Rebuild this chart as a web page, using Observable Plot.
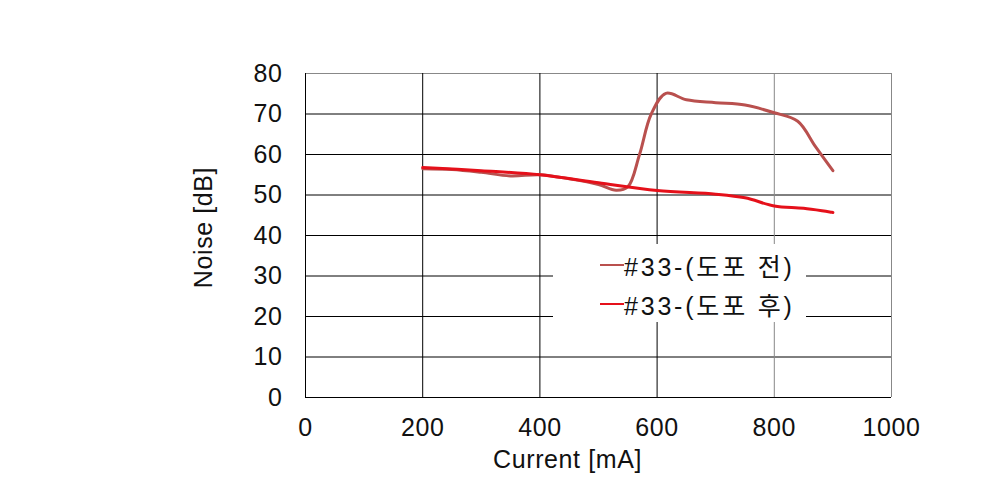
<!DOCTYPE html>
<html><head><meta charset="utf-8">
<script src="https://cdn.jsdelivr.net/npm/d3@7"></script>
<script src="https://cdn.jsdelivr.net/npm/@observablehq/plot@0.6"></script>
<style>
html,body{margin:0;padding:0;background:#fff;}
#wrap{position:relative;width:1004px;height:490px;}
#legend{position:absolute;left:553px;top:244px;width:253px;height:78px;background:#fff;font-family:"Liberation Sans",Arial,"Noto Sans CJK KR",sans-serif;font-size:25px;letter-spacing:2.8px;color:#111;}
.item{position:absolute;left:47px;display:flex;align-items:center;white-space:nowrap;}
.sw{display:inline-block;width:24px;height:0;margin-right:0px;}
</style></head>
<body><div id="wrap"><div id="legend"></div></div>
<script>
const seriesNames = ["#33-(도포 전)", "#33-(도포 후)"];
const seriesColors = ["#b9504e", "#e5101a"];
const beforeX = [200, 250, 300, 350, 400, 450, 500, 530, 550, 570, 590, 615, 650, 700, 750, 800, 840, 870, 900];
const beforeY = [56.5, 56.3, 55.6, 54.7, 55.0, 54.0, 52.6, 51.2, 52.0, 60.0, 70.0, 75.1, 73.5, 72.8, 72.2, 70.3, 68.2, 62.0, 56.0];
const afterX = [200, 300, 400, 500, 600, 700, 750, 800, 850, 900];
const afterY = [56.8, 56.0, 55.0, 53.0, 51.1, 50.2, 49.3, 47.3, 46.7, 45.7];
const xTicks = [0, 200, 400, 600, 800, 1000];
const yTicks = [0, 10, 20, 30, 40, 50, 60, 70, 80];
const xLabel = "Current [mA]";
const yLabel = "Noise [dB]";

const data = [
  ...beforeX.map((x, i) => ({x, y: beforeY[i], s: seriesNames[0]})),
  ...afterX.map((x, i) => ({x, y: afterY[i], s: seriesNames[1]}))
];

const chart = Plot.plot({
  width: 1004, height: 490,
  marginLeft: 305, marginRight: 113, marginTop: 73, marginBottom: 93,
  style: {fontFamily: "'Liberation Sans', Arial, sans-serif", fontSize: "25px", color: "#111", background: "#fff", letterSpacing: "0.6px"},
  x: {domain: [0, 1000]},
  y: {domain: [0, 80]},
  color: {domain: seriesNames, range: seriesColors},
  marks: [
    Plot.ruleY(yTicks, {stroke: d => d === 80 ? "#888" : "#000", strokeWidth: 1}),
    Plot.ruleX(xTicks, {stroke: d => d >= 800 ? "#888" : "#000", strokeWidth: 1}),
    Plot.line(data.filter(d => d.s === seriesNames[0]), {x: "x", y: "y", stroke: "s", strokeWidth: 3, curve: "catmull-rom"}),
    Plot.line(data.filter(d => d.s === seriesNames[1]), {x: "x", y: "y", stroke: "s", strokeWidth: 3, curve: "catmull-rom"}),
    Plot.axisX({ticks: xTicks, tickSize: 0, tickPadding: 21, tickFormat: d3.format("d"), label: null}),
    Plot.axisY({ticks: yTicks, tickSize: 0, tickPadding: 23, tickFormat: d3.format("d"), label: null}),
    Plot.text([xLabel], {text: d => d, frameAnchor: "bottom", textAnchor: "middle", lineAnchor: "middle", dx: -31, dy: 62, fontSize: 25, fill: "#111"}),
    Plot.text([yLabel], {text: d => d, frameAnchor: "left", textAnchor: "middle", lineAnchor: "middle", dx: -102, dy: -8, rotate: -90, fontSize: 25, fill: "#111"})
  ]
});
document.getElementById("wrap").prepend(chart);

const legend = document.getElementById("legend");
seriesNames.forEach((n, i) => {
  const d = document.createElement("div");
  d.className = "item";
  d.style.top = (i === 0 ? 3 : 42) + "px";
  d.innerHTML = `<span class="sw" style="border-top:2px solid ${seriesColors[i]}"></span><span>${n}</span>`;
  legend.appendChild(d);
});
</script></body></html>
